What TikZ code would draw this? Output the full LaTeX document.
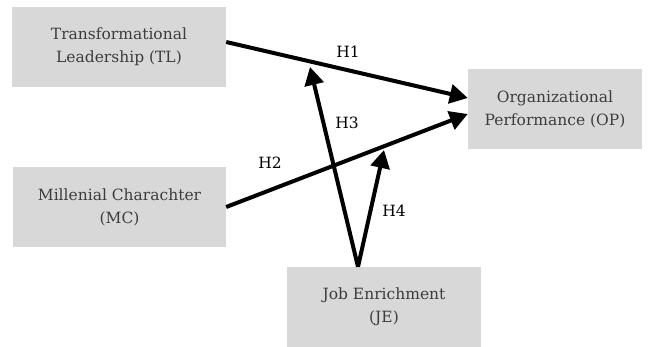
\documentclass[tikz,border=0pt]{standalone}
\usepackage{fontspec}
\setmainfont{DejaVu Serif}
\usetikzlibrary{arrows.meta}
\definecolor{boxgray}{RGB}{216,216,216}
\definecolor{boxtext}{RGB}{60,60,60}
\begin{document}
\begin{tikzpicture}[x=1pt,y=-1pt,font=\fontsize{15.5}{23}\selectfont, line join=round,
		box/.style={fill=boxgray,text=boxtext,align=center,minimum height=80pt,inner sep=0pt},
		link/.style={line width=4pt,-{Triangle[length=18pt,width=19pt]}}]
		\useasboundingbox (0,0) rectangle (654,346);
		% variables
		\node[box,minimum width=214pt] (tl) at (119,47) {Transformational\\Leadership (TL)};
		\node[box,minimum width=213pt] (mc) at (119.5,207) {Millenial Charachter\\(MC)};
		\node[box,minimum width=174pt] (op) at (555,109) {Organizational\\Performance (OP)};
		\node[box,minimum width=194pt] (je) at (384,307) {Job Enrichment\\(JE)};
		% moderation ends
		\coordinate (h3end) at (310,67);
		\coordinate (h4end) at (384,150);
		% hypotheses
		\draw[link] ([yshift=5pt]tl.east) -- ([yshift=11pt]op.west);
		\draw[link] (mc.east) -- ([yshift=-5pt]op.west);
		\draw[link] ([xshift=-26pt]je.north) -- (h3end);
		\draw[link] ([xshift=-26pt]je.north) -- (h4end);
		\node (h1) at (348,52) {H1};
		\node (h2) at (270,163) {H2};
		\node (h3) at (347,123) {H3};
		\node (h4) at (394,211) {H4};
\end{tikzpicture}
\end{document}
